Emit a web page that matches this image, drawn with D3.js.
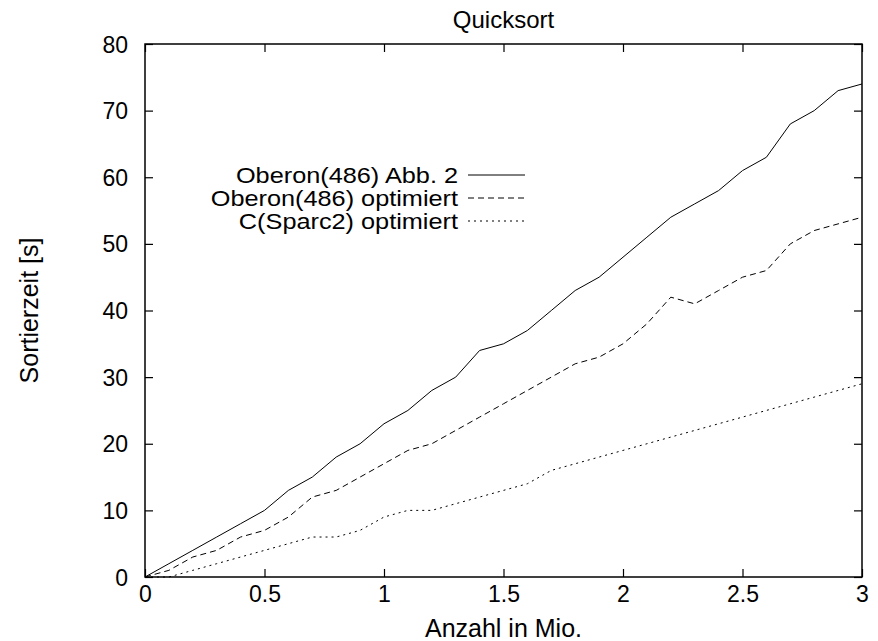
<!DOCTYPE html>
<html>
<head>
<meta charset="utf-8">
<script src="https://cdn.jsdelivr.net/npm/d3@7"></script>
<style>
body { margin: 0; background: #fff; }
text { font-family: "Liberation Sans", Arial, sans-serif; fill: #000; }
</style>
</head>
<body>
<div id="chart"></div>
<script>
// x values (Anzahl in Mio.)
var xs = [0, 0.1, 0.2, 0.3, 0.4, 0.5, 0.6, 0.7, 0.8, 0.9, 1.0,
    1.1, 1.2, 1.3, 1.4, 1.5, 1.6, 1.7, 1.8, 1.9, 2.0,
    2.1, 2.2, 2.3, 2.4, 2.5, 2.6, 2.7, 2.8, 2.9, 3.0];

var oberonAbb2 = [0, 2, 4, 6, 8, 10, 13, 15, 18, 20, 23,
    25, 28, 30, 34, 35, 37, 40, 43, 45, 48,
    51, 54, 56, 58, 61, 63, 68, 70, 73, 74];

var oberonOpt = [0, 1, 3, 4, 6, 7, 9, 12, 13, 15, 17,
    19, 20, 22, 24, 26, 28, 30, 32, 33, 35,
    38, 42, 41, 43, 45, 46, 50, 52, 53, 54];

var cSparcOpt = [0, 0, 1, 2, 3, 4, 5, 6, 6, 7, 9,
    10, 10, 11, 12, 13, 14, 16, 17, 18, 19,
    20, 21, 22, 23, 24, 25, 26, 27, 28, 29];

var xTicks = [0, 0.5, 1, 1.5, 2, 2.5, 3];
var yTicks = [0, 10, 20, 30, 40, 50, 60, 70, 80];

var series = [
    {name: "Oberon(486) Abb. 2", values: oberonAbb2, dash: null},
    {name: "Oberon(486) optimiert", values: oberonOpt, dash: "6,4"},
    {name: "C(Sparc2) optimiert", values: cSparcOpt, dash: "2,4"}
];

var margin = {top: 44, right: 16, bottom: 64, left: 145};
var width = 878 - margin.left - margin.right,
    height = 641 - margin.top - margin.bottom;

var svg = d3.select("#chart").append("svg")
    .attr("width", 878)
    .attr("height", 641);

var g = svg.append("g")
    .attr("transform", "translate(" + margin.left + "," + margin.top + ")");

var x = d3.scaleLinear().domain([0, 3]).range([0, width]);
var y = d3.scaleLinear().domain([0, 80]).range([height, 0]);

var tickLen = 8;

// bottom / left axes with labels, inward ticks
var xAxis = d3.axisBottom(x).tickValues(xTicks).tickSize(-tickLen).tickPadding(9)
    .tickFormat(function (d) { return d; });
var yAxis = d3.axisLeft(y).tickValues(yTicks).tickSize(-tickLen).tickPadding(17);

var gx = g.append("g").attr("transform", "translate(0," + height + ")").call(xAxis);
var gy = g.append("g").call(yAxis);

// mirrored ticks on top / right
var gxt = g.append("g").call(d3.axisTop(x).tickValues(xTicks).tickSize(-tickLen).tickFormat(""));
var gyr = g.append("g").attr("transform", "translate(" + width + ",0)")
    .call(d3.axisRight(y).tickValues(yTicks).tickSize(-tickLen).tickFormat(""));

[gx, gy, gxt, gyr].forEach(function (a) {
    a.select(".domain").remove();
    a.selectAll(".tick line").attr("stroke", "#000").attr("stroke-width", 1.2);
    a.selectAll("text").style("font-size", "23px").attr("fill", "#000");
});
gy.selectAll("text").attr("dy", "0.35em");

// frame
g.append("rect")
    .attr("x", 0).attr("y", 0)
    .attr("width", width).attr("height", height)
    .attr("fill", "none")
    .attr("stroke", "#000")
    .attr("stroke-width", 1.5);

var line = d3.line()
    .x(function (d, i) { return x(xs[i]); })
    .y(function (d) { return y(d); });

g.selectAll(".series")
    .data(series)
    .enter()
    .append("path")
    .attr("class", "series")
    .attr("d", function (d) { return line(d.values); })
    .attr("fill", "none")
    .attr("stroke", "#000")
    .attr("stroke-width", 1)
    .attr("stroke-dasharray", function (d) { return d.dash; });

// legend (text stretched a bit wider, like the postscript font)
var legend = g.append("g").attr("transform", "translate(313,131)");
series.forEach(function (s, i) {
    var row = legend.append("g").attr("transform", "translate(0," + (i * 23) + ")");
    row.append("text")
        .attr("transform", "scale(1.15,1)")
        .attr("x", 0).attr("y", 0).attr("dy", "0.35em")
        .attr("text-anchor", "end")
        .style("font-size", "22px")
        .text(s.name);
    row.append("line")
        .attr("x1", 10).attr("x2", 67)
        .attr("y1", 0).attr("y2", 0)
        .attr("stroke", "#000")
        .attr("stroke-width", 1)
        .attr("stroke-dasharray", s.dash);
});

// titles
svg.append("text")
    .attr("x", margin.left + width / 2).attr("y", 28)
    .attr("text-anchor", "middle")
    .style("font-size", "24px")
    .text("Quicksort");

svg.append("text")
    .attr("x", margin.left + width / 2).attr("y", 637)
    .attr("text-anchor", "middle")
    .style("font-size", "25px")
    .text("Anzahl in Mio.");

svg.append("text")
    .attr("transform", "translate(38," + (margin.top + height / 2) + ") rotate(-90)")
    .attr("text-anchor", "middle")
    .style("font-size", "25px")
    .text("Sortierzeit [s]");
</script>
</body>
</html>
